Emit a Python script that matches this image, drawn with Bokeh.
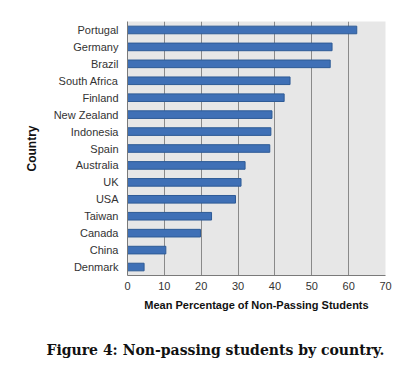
from bokeh.plotting import figure
from bokeh.models import Range1d, FactorRange, Title, ColumnDataSource, FixedTicker
from bokeh.embed import file_html
from bokeh.resources import INLINE

countries = ["Portugal", "Germany", "Brazil", "South Africa", "Finland", "New Zealand",
             "Indonesia", "Spain", "Australia", "UK", "USA", "Taiwan", "Canada", "China", "Denmark"]
values = [62.2, 55.5, 55.0, 44.1, 42.5, 39.2, 38.9, 38.6, 31.9, 30.8, 29.3, 22.8, 19.8, 10.4, 4.5]
x_ticks = [0, 10, 20, 30, 40, 50, 60, 70]
caption_text = "Figure 4: Non-passing students by country."

src = ColumnDataSource(dict(country=countries, value=values))

p = figure(width=394, height=358, output_backend="svg", toolbar_location=None,
           x_range=Range1d(0, 70), y_range=FactorRange(factors=list(reversed(countries))),
           min_border_left=127, min_border_top=21, min_border_right=9, min_border_bottom=83)

p.hbar(y="country", right="value", left=0, height=0.45, source=src,
       fill_color="#3f70b6", line_color="#2e5b96", line_width=1)

p.border_fill_color = "white"
p.outline_line_color = None
p.background_fill_color = "#e7e7e7"

p.xgrid.ticker = FixedTicker(ticks=x_ticks)
p.xgrid.grid_line_color = "#8a8a8a"
p.xgrid.grid_line_width = 1
p.ygrid.grid_line_color = None

p.xaxis.ticker = FixedTicker(ticks=x_ticks)
p.xaxis.axis_label = "Mean Percentage of Non-Passing Students"
p.xaxis.axis_label_text_font = "Liberation Sans"
p.xaxis.axis_label_text_font_style = "bold"
p.xaxis.axis_label_text_font_size = "11px"
p.xaxis.axis_label_text_color = "#111111"
p.xaxis.axis_label_standoff = 6
p.xaxis.major_label_text_font = "Liberation Sans"
p.xaxis.major_label_text_font_size = "11px"
p.xaxis.major_label_text_color = "#333333"
p.xaxis.major_label_standoff = 6
p.xaxis.major_tick_out = 0
p.xaxis.major_tick_in = 0
p.xaxis.minor_tick_line_color = None
p.xaxis.axis_line_color = "#7a7a7a"

p.yaxis.axis_label = "Country"
p.yaxis.axis_label_text_font = "Liberation Sans"
p.yaxis.axis_label_text_font_style = "bold"
p.yaxis.axis_label_text_font_size = "12px"
p.yaxis.axis_label_text_color = "#111111"
p.yaxis.axis_label_standoff = 12
p.yaxis.major_label_text_font = "Liberation Sans"
p.yaxis.major_label_text_font_size = "11px"
p.yaxis.major_label_text_color = "#333333"
p.yaxis.major_label_standoff = 9
p.yaxis.major_tick_out = 0
p.yaxis.major_tick_in = 0
p.yaxis.axis_line_color = "#7a7a7a"

spacer = Title(text=" ", text_font_size="14px", standoff=8)
p.add_layout(spacer, "below")
caption = Title(text=caption_text, align="left", offset=-81,
                text_font="DejaVu Serif", text_font_style="bold", text_font_size="14px",
                text_color="#111111", standoff=0)
p.add_layout(caption, "below")

open("out.html", "w").write(file_html(p, INLINE))
